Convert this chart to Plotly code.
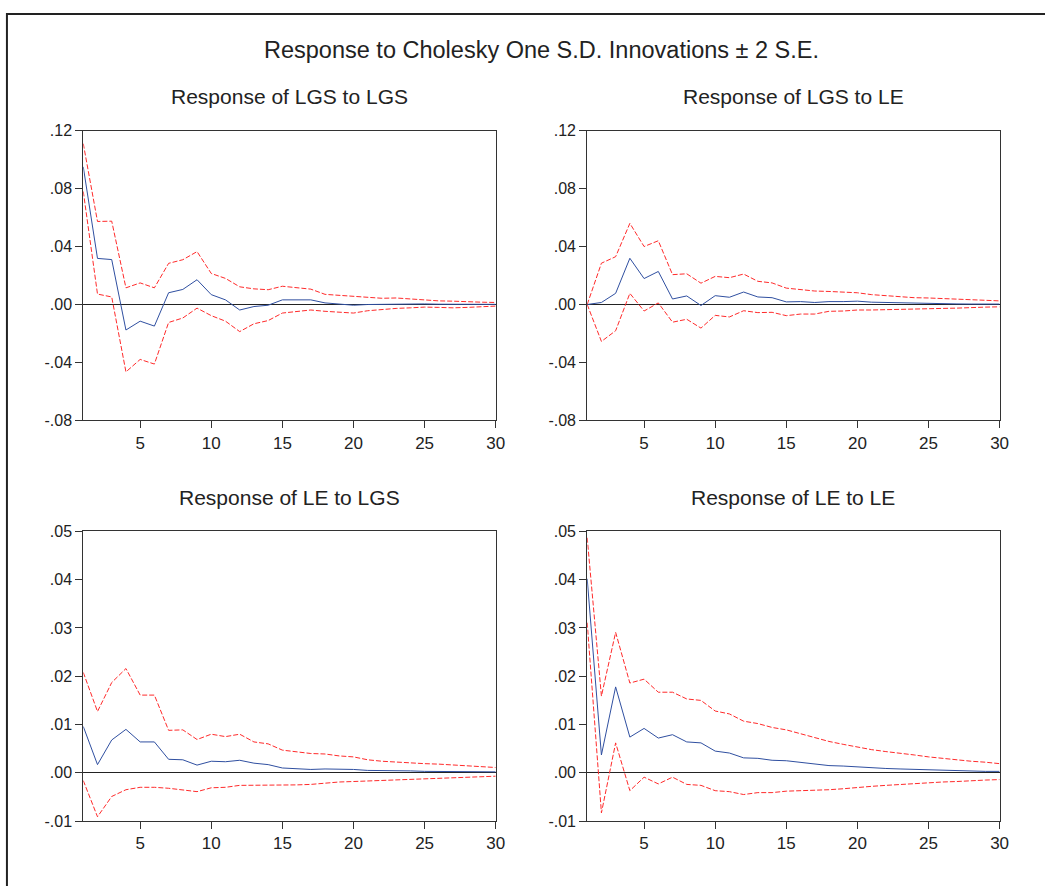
import plotly.graph_objects as go

periods = list(range(1, 31))

# Response of LGS to LGS
lgs_lgs = [0.095, 0.0318, 0.031, -0.0176, -0.0115, -0.0149, 0.0081, 0.0104, 0.0171, 0.0068,
           0.0032, -0.0038, -0.0014, -0.0005, 0.0032, 0.0032, 0.0032, 0.0011, 0.0002, -0.0005,
           0.0, 0.0002, 0.0004, 0.0006, 0.0004, 0.0002, 0.0001, 0.0001, 0.0001, 0.0001]
lgs_lgs_up = [0.111, 0.0573, 0.0575, 0.0115, 0.0149, 0.0115, 0.0284, 0.0309, 0.0365, 0.0214,
              0.018, 0.0122, 0.0108, 0.0102, 0.0126, 0.0117, 0.0106, 0.0070, 0.0063, 0.0054,
              0.0047, 0.0043, 0.0045, 0.0038, 0.0032, 0.0025, 0.0023, 0.0018, 0.0016, 0.0014]
lgs_lgs_lo = [0.078, 0.0072, 0.0052, -0.0465, -0.0379, -0.0411, -0.0124, -0.0093, -0.0025, -0.0077,
              -0.0115, -0.0187, -0.0133, -0.0111, -0.0059, -0.0047, -0.0038, -0.0047, -0.0054, -0.0059,
              -0.0043, -0.0034, -0.0027, -0.0023, -0.0018, -0.0020, -0.0023, -0.0020, -0.0016, -0.0011]

# Response of LGS to LE
lgs_le = [0.0, 0.0014, 0.0077, 0.0319, 0.0179, 0.0228, 0.0038, 0.0059, -0.0007, 0.0061,
          0.005, 0.0086, 0.0052, 0.0047, 0.0018, 0.002, 0.0014, 0.002, 0.002, 0.0023,
          0.0016, 0.0014, 0.0007, 0.0005, 0.0005, 0.0004, 0.0004, 0.0003, 0.0003, 0.0003]
lgs_le_up = [0.0, 0.0285, 0.033, 0.056, 0.040, 0.044, 0.0206, 0.0212, 0.0147, 0.0194,
             0.0185, 0.021, 0.016, 0.0149, 0.0113, 0.0104, 0.0093, 0.009, 0.0084, 0.0081,
             0.0068, 0.0061, 0.0052, 0.0047, 0.0045, 0.0041, 0.0036, 0.0034, 0.0029, 0.0025]
lgs_le_lo = [0.0, -0.0255, -0.0181, 0.0077, -0.0045, 0.0011, -0.0122, -0.0102, -0.0163, -0.0075,
             -0.0086, -0.0043, -0.0056, -0.0054, -0.0077, -0.0066, -0.0066, -0.0047, -0.0045, -0.0038,
             -0.0038, -0.0036, -0.0038, -0.0034, -0.0029, -0.0027, -0.0025, -0.0020, -0.0018, -0.0016]

# Response of LE to LGS
le_lgs = [0.0096, 0.0017, 0.0068, 0.009, 0.0064, 0.0064, 0.0028, 0.0027, 0.0016, 0.0024,
          0.0023, 0.0026, 0.002, 0.0017, 0.001, 0.0009, 0.0007, 0.0008, 0.0008, 0.0007,
          0.0005, 0.0005, 0.0004, 0.0004, 0.0003, 0.0003, 0.0003, 0.0002, 0.0002, 0.0002]
le_lgs_up = [0.0208, 0.0127, 0.0187, 0.0216, 0.0161, 0.0161, 0.0088, 0.0089, 0.0069, 0.008,
             0.0075, 0.008, 0.0064, 0.006, 0.0047, 0.0044, 0.004, 0.0039, 0.0035, 0.0033,
             0.0027, 0.0024, 0.0022, 0.002, 0.0019, 0.0018, 0.0016, 0.0014, 0.0013, 0.0011]
le_lgs_lo = [-0.0016, -0.0091, -0.0049, -0.0035, -0.003, -0.003, -0.0032, -0.0035, -0.0039, -0.0031,
             -0.003, -0.0026, -0.0026, -0.0026, -0.0026, -0.0025, -0.0024, -0.0021, -0.0019, -0.0018,
             -0.0017, -0.0016, -0.0015, -0.0014, -0.0012, -0.0011, -0.001, -0.0009, -0.0008, -0.0007]

# Response of LE to LE
le_le = [0.0402, 0.0037, 0.0178, 0.0074, 0.0092, 0.0072, 0.0079, 0.0064, 0.0062, 0.0045,
         0.0041, 0.0031, 0.003, 0.0026, 0.0025, 0.0022, 0.0019, 0.0015, 0.0014, 0.0012,
         0.001, 0.0009, 0.0008, 0.0007, 0.0006, 0.0005, 0.0005, 0.0004, 0.0003, 0.0003]
le_le_up = [0.0487, 0.0159, 0.0291, 0.0186, 0.0194, 0.0167, 0.0167, 0.0153, 0.015, 0.0128,
            0.0122, 0.0107, 0.0102, 0.0094, 0.0089, 0.0081, 0.0074, 0.0065, 0.0059, 0.0053,
            0.0048, 0.0044, 0.0041, 0.0037, 0.0033, 0.003, 0.0026, 0.0024, 0.0022, 0.0019]
le_le_lo = [0.0311, -0.0083, 0.0062, -0.0037, -0.0009, -0.0023, -0.0009, -0.0024, -0.0026, -0.0037,
            -0.0039, -0.0045, -0.0041, -0.0041, -0.0038, -0.0037, -0.0037, -0.0035, -0.0033, -0.003,
            -0.0028, -0.0026, -0.0024, -0.0023, -0.0021, -0.0019, -0.0018, -0.0016, -0.0015, -0.0014]

titles = ["Response of LGS to LGS", "Response of LGS to LE",
          "Response of LE to LGS", "Response of LE to LE"]
main_title = "Response to Cholesky One S.D. Innovations \u00b1 2 S.E."

top_ticks = [-0.08, -0.04, 0.0, 0.04, 0.08, 0.12]
top_labels = ["-.08", "-.04", ".00", ".04", ".08", ".12"]
bot_ticks = [-0.01, 0.0, 0.01, 0.02, 0.03, 0.04, 0.05]
bot_labels = ["-.01", ".00", ".01", ".02", ".03", ".04", ".05"]
x_ticks = [5, 10, 15, 20, 25, 30]

W, H = 1045, 886
BLUE = "#2f4fa0"
RED = "#ff2a2a"
FONT = "Liberation Sans, Arial, sans-serif"

panels = [
    (lgs_lgs, lgs_lgs_up, lgs_lgs_lo, (84, 500), (125, 420.5), top_ticks, top_labels, [-0.08, 0.12]),
    (lgs_le, lgs_le_up, lgs_le_lo, (592.3, 1008.3), (125, 420.5), top_ticks, top_labels, [-0.08, 0.12]),
    (le_lgs, le_lgs_up, le_lgs_lo, (84, 500), (533.7, 829), bot_ticks, bot_labels, [-0.01, 0.05]),
    (le_le, le_le_up, le_le_lo, (592.3, 1008.3), (533.7, 829), bot_ticks, bot_labels, [-0.01, 0.05]),
]

fig = go.Figure()
layout = dict(width=W, height=H, autosize=False, margin=dict(l=0, r=0, t=0, b=0),
              paper_bgcolor="white", plot_bgcolor="white", showlegend=False,
              font=dict(family=FONT, color="#222222"))
annotations = []
shapes = []

for i, (mid, up, lo, (px0, px1), (py0, py1), yt, yl, yr) in enumerate(panels):
    n = i + 1
    xa = "x" if n == 1 else f"x{n}"
    ya = "y" if n == 1 else f"y{n}"
    fig.add_trace(go.Scatter(x=periods, y=up, mode="lines", xaxis=xa, yaxis=ya,
                             line=dict(color=RED, width=1, dash="5px,2px")))
    fig.add_trace(go.Scatter(x=periods, y=lo, mode="lines", xaxis=xa, yaxis=ya,
                             line=dict(color=RED, width=1, dash="5px,2px")))
    fig.add_trace(go.Scatter(x=periods, y=mid, mode="lines", xaxis=xa, yaxis=ya,
                             line=dict(color=BLUE, width=1)))
    xkey = "xaxis" if n == 1 else f"xaxis{n}"
    ykey = "yaxis" if n == 1 else f"yaxis{n}"
    layout[xkey] = dict(domain=[px0 / W, px1 / W], range=[1, 30], anchor=ya,
                        tickvals=x_ticks, ticks="outside", ticklen=7, tickcolor="#333",
                        showgrid=False, zeroline=False, showline=True, linecolor="#333",
                        linewidth=1, mirror=True,
                        tickfont=dict(size=17, family=FONT, color="#222"))
    layout[ykey] = dict(domain=[1 - py1 / H, 1 - py0 / H], range=yr, anchor=xa,
                        tickvals=yt, ticktext=yl, ticks="outside", ticklen=7, tickcolor="#333",
                        showgrid=False, zeroline=True, zerolinecolor="#222", zerolinewidth=1,
                        showline=True, linecolor="#333", linewidth=1, mirror=True,
                        tickfont=dict(size=16, family=FONT, color="#222"))
    annotations.append(dict(text=titles[i], x=(px0 + px1) / 2 / W, y=1 - (py0 - 35) / H,
                            xref="paper", yref="paper", showarrow=False,
                            xanchor="center", yanchor="middle",
                            font=dict(size=21, family=FONT, color="#222")))

annotations.append(dict(text=main_title, x=546 / W, y=1 - 43 / H, xref="paper", yref="paper",
                        showarrow=False, xanchor="center", yanchor="middle",
                        font=dict(size=23.5, family=FONT, color="#222")))
shapes.append(dict(type="rect", xref="paper", yref="paper", x0=7 / W, x1=1.02,
                   y0=-0.02, y1=1 - 6 / H, line=dict(color="#222", width=2)))
layout["annotations"] = annotations
layout["shapes"] = shapes
fig.update_layout(**layout)
fig.write_html("out.html", config={"responsive": False},
               post_script="document.body.style.margin='0';document.body.style.overflow='hidden';")
